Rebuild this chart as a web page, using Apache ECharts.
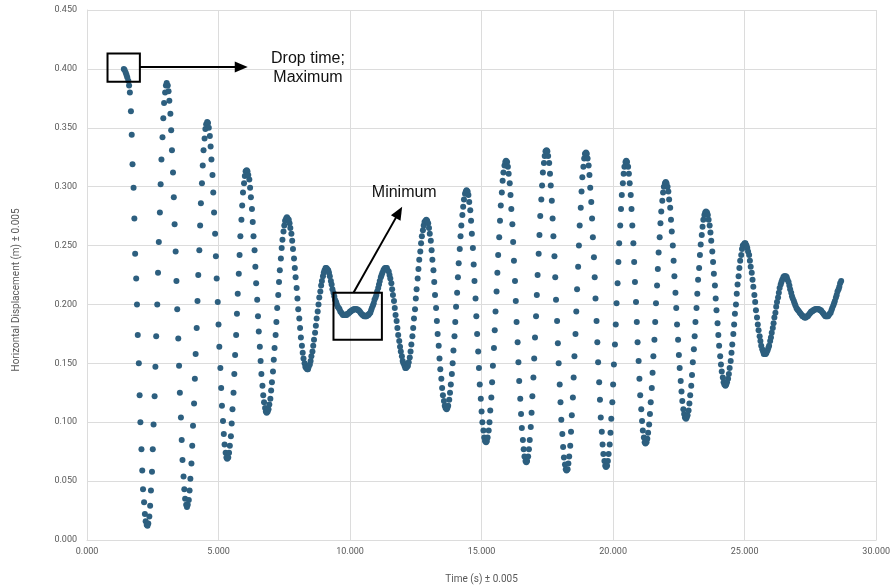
<!DOCTYPE html>
<html>
<head>
<meta charset="utf-8">
<script src="https://cdn.jsdelivr.net/npm/echarts@6/dist/echarts.min.js"></script>
<style>
  html, body { margin: 0; padding: 0; background: #ffffff; }
  #chart { width: 893px; height: 588px; }
</style>
</head>
<body>
<div id="chart"></div>
<script>
// Video frame times (s), one frame every 1/30 s
const timeS = [
  1.40,1.43,1.47,1.50,1.53,1.57,1.60,1.63,1.67,1.70,1.73,1.77,1.80,1.83,1.87,1.90,1.93,1.97,2.00,2.03,2.07,2.10,2.13,2.17,2.20,2.23,2.27,2.30,2.33,2.37,
  2.40,2.43,2.47,2.50,2.53,2.57,2.60,2.63,2.67,2.70,2.73,2.77,2.80,2.83,2.87,2.90,2.93,2.97,3.00,3.03,3.07,3.10,3.13,3.17,3.20,3.23,3.27,3.30,3.33,3.37,
  3.40,3.43,3.47,3.50,3.53,3.57,3.60,3.63,3.67,3.70,3.73,3.77,3.80,3.83,3.87,3.90,3.93,3.97,4.00,4.03,4.07,4.10,4.13,4.17,4.20,4.23,4.27,4.30,4.33,4.37,
  4.40,4.43,4.47,4.50,4.53,4.57,4.60,4.63,4.67,4.70,4.73,4.77,4.80,4.83,4.87,4.90,4.93,4.97,5.00,5.03,5.07,5.10,5.13,5.17,5.20,5.23,5.27,5.30,5.33,5.37,
  5.40,5.43,5.47,5.50,5.53,5.57,5.60,5.63,5.67,5.70,5.73,5.77,5.80,5.83,5.87,5.90,5.93,5.97,6.00,6.03,6.07,6.10,6.13,6.17,6.20,6.23,6.27,6.30,6.33,6.37,
  6.40,6.43,6.47,6.50,6.53,6.57,6.60,6.63,6.67,6.70,6.73,6.77,6.80,6.83,6.87,6.90,6.93,6.97,7.00,7.03,7.07,7.10,7.13,7.17,7.20,7.23,7.27,7.30,7.33,7.37,
  7.40,7.43,7.47,7.50,7.53,7.57,7.60,7.63,7.67,7.70,7.73,7.77,7.80,7.83,7.87,7.90,7.93,7.97,8.00,8.03,8.07,8.10,8.13,8.17,8.20,8.23,8.27,8.30,8.33,8.37,
  8.40,8.43,8.47,8.50,8.53,8.57,8.60,8.63,8.67,8.70,8.73,8.77,8.80,8.83,8.87,8.90,8.93,8.97,9.00,9.03,9.07,9.10,9.13,9.17,9.20,9.23,9.27,9.30,9.33,9.37,
  9.40,9.43,9.47,9.50,9.53,9.57,9.60,9.63,9.67,9.70,9.73,9.77,9.80,9.83,9.87,9.90,9.93,9.97,10.00,10.03,10.07,10.10,10.13,10.17,10.20,10.23,10.27,10.30,10.33,10.37,
  10.40,10.43,10.47,10.50,10.53,10.57,10.60,10.63,10.67,10.70,10.73,10.77,10.80,10.83,10.87,10.90,10.93,10.97,11.00,11.03,11.07,11.10,11.13,11.17,11.20,11.23,11.27,11.30,11.33,11.37,
  11.40,11.43,11.47,11.50,11.53,11.57,11.60,11.63,11.67,11.70,11.73,11.77,11.80,11.83,11.87,11.90,11.93,11.97,12.00,12.03,12.07,12.10,12.13,12.17,12.20,12.23,12.27,12.30,12.33,12.37,
  12.40,12.43,12.47,12.50,12.53,12.57,12.60,12.63,12.67,12.70,12.73,12.77,12.80,12.83,12.87,12.90,12.93,12.97,13.00,13.03,13.07,13.10,13.13,13.17,13.20,13.23,13.27,13.30,13.33,13.37,
  13.40,13.43,13.47,13.50,13.53,13.57,13.60,13.63,13.67,13.70,13.73,13.77,13.80,13.83,13.87,13.90,13.93,13.97,14.00,14.03,14.07,14.10,14.13,14.17,14.20,14.23,14.27,14.30,14.33,14.37,
  14.40,14.43,14.47,14.50,14.53,14.57,14.60,14.63,14.67,14.70,14.73,14.77,14.80,14.83,14.87,14.90,14.93,14.97,15.00,15.03,15.07,15.10,15.13,15.17,15.20,15.23,15.27,15.30,15.33,15.37,
  15.40,15.43,15.47,15.50,15.53,15.57,15.60,15.63,15.67,15.70,15.73,15.77,15.80,15.83,15.87,15.90,15.93,15.97,16.00,16.03,16.07,16.10,16.13,16.17,16.20,16.23,16.27,16.30,16.33,16.37,
  16.40,16.43,16.47,16.50,16.53,16.57,16.60,16.63,16.67,16.70,16.73,16.77,16.80,16.83,16.87,16.90,16.93,16.97,17.00,17.03,17.07,17.10,17.13,17.17,17.20,17.23,17.27,17.30,17.33,17.37,
  17.40,17.43,17.47,17.50,17.53,17.57,17.60,17.63,17.67,17.70,17.73,17.77,17.80,17.83,17.87,17.90,17.93,17.97,18.00,18.03,18.07,18.10,18.13,18.17,18.20,18.23,18.27,18.30,18.33,18.37,
  18.40,18.43,18.47,18.50,18.53,18.57,18.60,18.63,18.67,18.70,18.73,18.77,18.80,18.83,18.87,18.90,18.93,18.97,19.00,19.03,19.07,19.10,19.13,19.17,19.20,19.23,19.27,19.30,19.33,19.37,
  19.40,19.43,19.47,19.50,19.53,19.57,19.60,19.63,19.67,19.70,19.73,19.77,19.80,19.83,19.87,19.90,19.93,19.97,20.00,20.03,20.07,20.10,20.13,20.17,20.20,20.23,20.27,20.30,20.33,20.37,
  20.40,20.43,20.47,20.50,20.53,20.57,20.60,20.63,20.67,20.70,20.73,20.77,20.80,20.83,20.87,20.90,20.93,20.97,21.00,21.03,21.07,21.10,21.13,21.17,21.20,21.23,21.27,21.30,21.33,21.37,
  21.40,21.43,21.47,21.50,21.53,21.57,21.60,21.63,21.67,21.70,21.73,21.77,21.80,21.83,21.87,21.90,21.93,21.97,22.00,22.03,22.07,22.10,22.13,22.17,22.20,22.23,22.27,22.30,22.33,22.37,
  22.40,22.43,22.47,22.50,22.53,22.57,22.60,22.63,22.67,22.70,22.73,22.77,22.80,22.83,22.87,22.90,22.93,22.97,23.00,23.03,23.07,23.10,23.13,23.17,23.20,23.23,23.27,23.30,23.33,23.37,
  23.40,23.43,23.47,23.50,23.53,23.57,23.60,23.63,23.67,23.70,23.73,23.77,23.80,23.83,23.87,23.90,23.93,23.97,24.00,24.03,24.07,24.10,24.13,24.17,24.20,24.23,24.27,24.30,24.33,24.37,
  24.40,24.43,24.47,24.50,24.53,24.57,24.60,24.63,24.67,24.70,24.73,24.77,24.80,24.83,24.87,24.90,24.93,24.97,25.00,25.03,25.07,25.10,25.13,25.17,25.20,25.23,25.27,25.30,25.33,25.37,
  25.40,25.43,25.47,25.50,25.53,25.57,25.60,25.63,25.67,25.70,25.73,25.77,25.80,25.83,25.87,25.90,25.93,25.97,26.00,26.03,26.07,26.10,26.13,26.17,26.20,26.23,26.27,26.30,26.33,26.37,
  26.40,26.43,26.47,26.50,26.53,26.57,26.60,26.63,26.67,26.70,26.73,26.77,26.80,26.83,26.87,26.90,26.93,26.97,27.00,27.03,27.07,27.10,27.13,27.17,27.20,27.23,27.27,27.30,27.33,27.37,
  27.40,27.43,27.47,27.50,27.53,27.57,27.60,27.63,27.67,27.70,27.73,27.77,27.80,27.83,27.87,27.90,27.93,27.97,28.00,28.03,28.07,28.10,28.13,28.17,28.20,28.23,28.27,28.30,28.33,28.37,
  28.40,28.43,28.47,28.50,28.53,28.57,28.60,28.63,28.67
];

// Horizontal displacement (m) for each frame
const displacementM = [
  // release and first swing
  0.400,0.399,0.397,0.395,0.393,0.390,0.386,0.380,0.364,0.344,0.319,0.299,0.273,0.243,0.222,0.200,0.174,0.150,0.123,0.100,0.077,0.059,0.043,0.032,0.022,0.016,0.013,0.012,
  0.014,0.020,0.029,0.042,0.058,0.077,0.098,0.122,0.147,0.173,0.200,0.227,0.253,0.278,0.302,0.323,0.342,0.358,0.371,0.380,0.386,0.388,
  0.386,0.381,0.373,0.362,0.348,0.331,0.312,0.291,0.268,0.245,0.220,0.196,0.171,0.148,0.125,0.104,0.085,0.068,0.054,0.043,0.035,0.030,0.028,
  0.030,0.034,0.042,0.052,0.065,0.080,0.097,0.116,0.137,0.158,0.180,0.203,0.225,0.246,0.267,0.286,0.303,0.318,0.331,0.341,0.349,0.353,0.355,
  0.354,0.350,0.343,0.334,0.323,0.310,0.295,0.278,0.260,0.241,0.222,0.202,0.183,0.164,0.146,0.129,0.114,0.101,0.090,0.081,0.074,0.070,0.069,
  0.070,0.074,0.080,0.088,0.099,0.111,0.125,0.141,0.157,0.174,0.192,0.209,0.226,0.242,0.258,0.272,0.284,0.295,0.303,0.309,0.313,0.314,
  0.313,0.310,0.306,0.299,0.291,0.281,0.270,0.258,0.246,0.232,0.218,0.204,0.190,0.177,0.164,0.152,0.141,0.131,0.123,0.117,0.112,0.109,0.108,
  0.109,0.111,0.115,0.120,0.127,0.134,0.143,0.153,0.163,0.174,0.185,0.197,0.208,0.219,0.229,0.239,0.248,0.255,0.262,0.267,0.271,0.273,0.274,
  0.273,0.272,0.269,0.265,0.260,0.254,0.247,0.239,0.231,0.223,0.214,0.205,0.196,0.188,0.180,0.172,0.165,0.159,0.154,0.150,0.147,0.146,0.145,
  0.145,0.147,0.149,0.152,0.156,0.160,0.165,0.170,0.176,0.182,0.188,0.194,0.200,0.206,0.211,0.216,0.220,0.224,0.227,0.229,0.231,0.231,
  // first beat minimum
  0.230,0.229,0.227,0.224,0.220,0.217,0.213,0.210,0.207,0.204,
  0.202,0.200,0.198,0.197,0.196,0.194,0.193,0.192,0.191,0.191,
  0.191,0.191,0.191,0.192,0.192,0.193,0.194,0.194,0.195,0.195,
  0.196,0.196,0.196,0.196,0.196,0.195,0.195,0.194,0.193,0.192,
  0.191,0.191,0.190,0.190,0.190,0.190,0.191,0.191,0.192,0.193,
  0.195,0.197,0.199,0.201,0.204,0.206,0.208,0.211,0.214,0.217,
  0.220,0.223,0.225,0.227,0.229,0.230,0.231,0.231,
  // growing swings
  0.231,0.229,0.228,0.225,0.222,0.218,0.213,0.208,0.203,0.197,0.191,0.186,0.180,0.174,0.169,0.164,0.160,0.156,0.152,0.150,0.148,0.146,0.146,
  0.147,0.148,0.151,0.155,0.160,0.166,0.173,0.180,0.188,0.196,0.205,0.213,0.222,0.230,0.238,0.245,0.252,0.258,0.263,0.267,0.270,0.271,0.272,
  0.271,0.269,0.265,0.260,0.254,0.246,0.238,0.229,0.219,0.208,0.197,0.186,0.175,0.165,0.154,0.145,0.137,0.129,0.123,0.118,0.114,0.112,0.111,
  0.112,0.114,0.119,0.125,0.132,0.141,0.150,0.161,0.173,0.185,0.198,0.210,0.223,0.235,0.247,0.258,0.267,0.276,0.283,0.289,0.294,0.296,0.297,
  0.296,0.293,0.287,0.280,0.271,0.260,0.248,0.234,0.220,0.205,0.190,0.175,0.160,0.146,0.132,0.120,0.109,0.100,0.093,0.087,0.084,0.083,
  0.084,0.087,0.093,0.100,0.110,0.121,0.134,0.148,0.163,0.178,0.194,0.211,0.227,0.242,0.257,0.271,0.284,0.295,0.305,0.312,0.318,0.321,0.322,
  0.321,0.317,0.311,0.303,0.293,0.281,0.268,0.253,0.237,0.220,0.203,0.185,0.168,0.151,0.135,0.120,0.107,0.095,0.085,0.077,0.071,0.067,0.066,
  0.067,0.071,0.077,0.085,0.096,0.108,0.122,0.138,0.154,0.172,0.190,0.208,0.225,0.243,0.259,0.275,0.289,0.301,0.312,0.320,0.326,0.330,0.331,
  0.330,0.326,0.320,0.311,0.301,0.288,0.273,0.258,0.241,0.223,0.204,0.186,0.167,0.150,0.132,0.117,0.102,0.090,0.079,0.070,0.064,0.060,0.059,
  0.060,0.065,0.071,0.080,0.092,0.106,0.121,0.138,0.156,0.175,0.194,0.213,0.232,0.250,0.267,0.282,0.296,0.308,0.317,0.324,0.328,0.329,
  // shrinking swings
  0.328,0.324,0.318,0.310,0.299,0.287,0.273,0.257,0.240,0.223,0.205,0.186,0.168,0.151,0.134,0.119,0.104,0.092,0.081,0.073,0.067,0.063,0.062,
  0.063,0.067,0.073,0.081,0.091,0.103,0.117,0.132,0.149,0.166,0.183,0.201,0.218,0.236,0.252,0.267,0.281,0.293,0.303,0.311,0.317,0.321,0.322,
  0.321,0.317,0.311,0.303,0.293,0.281,0.267,0.252,0.236,0.219,0.202,0.185,0.168,0.152,0.137,0.123,0.111,0.101,0.093,0.087,0.083,0.082,
  0.083,0.086,0.091,0.098,0.107,0.117,0.129,0.142,0.156,0.170,0.185,0.201,0.216,0.230,0.244,0.257,0.269,0.279,0.288,0.295,0.300,0.303,0.304,
  0.303,0.300,0.296,0.289,0.282,0.272,0.262,0.250,0.237,0.224,0.210,0.197,0.183,0.170,0.157,0.146,0.135,0.126,0.118,0.111,0.107,0.104,0.103,
  0.104,0.106,0.110,0.116,0.123,0.131,0.140,0.151,0.162,0.173,0.185,0.197,0.209,0.221,0.231,0.242,0.251,0.259,0.266,0.272,0.276,0.278,0.279,
  0.278,0.276,0.272,0.267,0.261,0.254,0.245,0.236,0.226,0.216,0.205,0.195,0.184,0.174,0.165,0.156,0.149,0.143,0.138,0.134,0.132,0.131,
  0.132,0.134,0.137,0.141,0.146,0.152,0.159,0.166,0.175,0.183,0.192,0.200,0.209,0.217,0.224,0.231,0.237,0.242,0.247,0.250,0.251,0.252,
  0.252,0.250,0.248,0.245,0.242,0.237,0.232,0.227,0.221,0.215,0.208,0.202,0.195,0.189,0.183,0.178,0.173,0.169,0.165,0.162,0.160,0.158,0.158,
  0.158,0.159,0.161,0.163,0.165,0.169,0.172,0.176,0.180,0.184,0.189,0.193,0.198,0.202,0.206,0.210,0.214,0.217,0.219,0.221,0.223,0.224,0.224,
  // second beat minimum
  0.224,0.223,0.221,0.219,0.216,0.213,0.210,0.207,0.205,0.203,
  0.201,0.199,0.197,0.196,0.195,0.194,0.193,0.192,0.191,0.190,
  0.190,0.189,0.189,0.189,0.190,0.190,0.191,0.192,0.193,0.194,
  0.194,0.195,0.195,0.196,0.196,0.196,0.196,0.196,0.196,0.195,
  0.195,0.194,0.193,0.192,0.191,0.190,0.190,0.190,0.190,0.191,
  0.192,0.193,0.195,0.197,0.199,0.201,0.203,0.206,0.208,0.211,
  0.213,0.215,0.218,0.220
];

// Axis ranges: [min, max, step]
const timeAxis = [0, 30, 5];
const displacementAxis = [0, 0.45, 0.05];

const xTitle = 'Time (s) \u00b1 0.005';
const yTitle = 'Horizontal Displacement (m) \u00b1 0.005';

// Callout anchors, in data units
const dropBox = [[0.78, 0.413], [2.01, 0.389]];
const dropArrow = [[2.01, 0.4015], [6.11, 0.4015]];
const dropLabel = { at: [8.40, 0.4008], text: 'Drop time;\nMaximum' };
const minBox = [[9.37, 0.2100], [11.21, 0.1700]];
const minArrow = [[10.13, 0.2100], [11.98, 0.2830]];
const minLabel = { at: [12.06, 0.2950], text: 'Minimum' };

const n = Math.min(timeS.length, displacementM.length);
const points = [];
for (let i = 0; i < n; i++) points.push([timeS[i], displacementM[i]]);

const axisFont = "'Liberation Sans Narrow', 'Roboto', sans-serif";
const gridColor = '#dcdcdc';
const labelColor = '#595959';

const chart = echarts.init(document.getElementById('chart'), null, { renderer: 'canvas' });

chart.setOption({
  backgroundColor: '#ffffff',
  animation: false,
  grid: { left: 87, right: 15, top: 10, bottom: 48, containLabel: false },
  xAxis: {
    type: 'value',
    min: timeAxis[0], max: timeAxis[1], interval: timeAxis[2],
    axisLine: { show: true, lineStyle: { color: gridColor, width: 1 } },
    axisTick: { show: false },
    axisLabel: {
      color: labelColor, fontSize: 9, fontFamily: axisFont, margin: 7,
      formatter: v => v.toFixed(3)
    },
    splitLine: { show: true, lineStyle: { color: gridColor, width: 1 } }
  },
  yAxis: {
    type: 'value',
    min: displacementAxis[0], max: displacementAxis[1], interval: displacementAxis[2],
    axisLine: { show: true, lineStyle: { color: gridColor, width: 1 } },
    axisTick: { show: false },
    axisLabel: {
      color: labelColor, fontSize: 9, fontFamily: axisFont, margin: 10,
      formatter: v => v.toFixed(3)
    },
    splitLine: { show: true, lineStyle: { color: gridColor, width: 1 } }
  },
  series: [{
    type: 'scatter',
    data: points,
    symbol: 'circle',
    symbolSize: 6,
    itemStyle: { color: '#2d5f7f', opacity: 1 },
    large: false,
    silent: true
  }]
});

// Callouts and axis titles, placed through the grid's coordinate system
function px(v) { return chart.convertToPixel({ gridIndex: 0 }, v); }

function arrowParts(from, to, headLen, headHalf) {
  const a = px(from), b = px(to);
  const dx = b[0] - a[0], dy = b[1] - a[1];
  const len = Math.sqrt(dx * dx + dy * dy);
  const ux = dx / len, uy = dy / len;
  const nx = -uy, ny = ux;
  const bx = b[0] - ux * headLen, by = b[1] - uy * headLen;
  return [
    { type: 'line', silent: true, z: 100,
      shape: { x1: a[0], y1: a[1], x2: bx + ux, y2: by + uy },
      style: { stroke: '#000000', lineWidth: 2 } },
    { type: 'polygon', silent: true, z: 100,
      shape: { points: [[b[0], b[1]], [bx + nx * headHalf, by + ny * headHalf], [bx - nx * headHalf, by - ny * headHalf]] },
      style: { fill: '#000000' } }
  ];
}

function boxPart(corners) {
  const p = px(corners[0]), q = px(corners[1]);
  return { type: 'rect', silent: true, z: 100,
    shape: { x: Math.min(p[0], q[0]), y: Math.min(p[1], q[1]), width: Math.abs(q[0] - p[0]), height: Math.abs(q[1] - p[1]) },
    style: { fill: 'rgba(0,0,0,0)', stroke: '#000000', lineWidth: 2 } };
}

function labelPart(lbl) {
  const p = px(lbl.at);
  return { type: 'text', silent: true, z: 100, x: p[0], y: p[1],
    style: { text: lbl.text, fill: '#111111', font: "16px 'Liberation Sans', Arial, sans-serif",
      textAlign: 'center', textVerticalAlign: 'middle', lineHeight: 19 } };
}

const plotLeft = px([timeAxis[0], displacementAxis[0]]);
const plotRight = px([timeAxis[1], displacementAxis[1]]);

const graphics = [
  boxPart(dropBox),
  ...arrowParts(dropArrow[0], dropArrow[1], 13, 5.5),
  labelPart(dropLabel),
  boxPart(minBox),
  ...arrowParts(minArrow[0], minArrow[1], 13, 5.5),
  labelPart(minLabel),
  { type: 'text', silent: true, x: (plotLeft[0] + plotRight[0]) / 2, y: 579,
    style: { text: xTitle, fill: labelColor, font: "10px " + axisFont, textAlign: 'center', textVerticalAlign: 'middle' } },
  { type: 'text', silent: true, x: 16, y: 290, rotation: Math.PI / 2,
    style: { text: yTitle, fill: labelColor, font: "10px " + axisFont, textAlign: 'center', textVerticalAlign: 'middle' } }
];

chart.setOption({ graphic: graphics });
</script>
</body>
</html>
